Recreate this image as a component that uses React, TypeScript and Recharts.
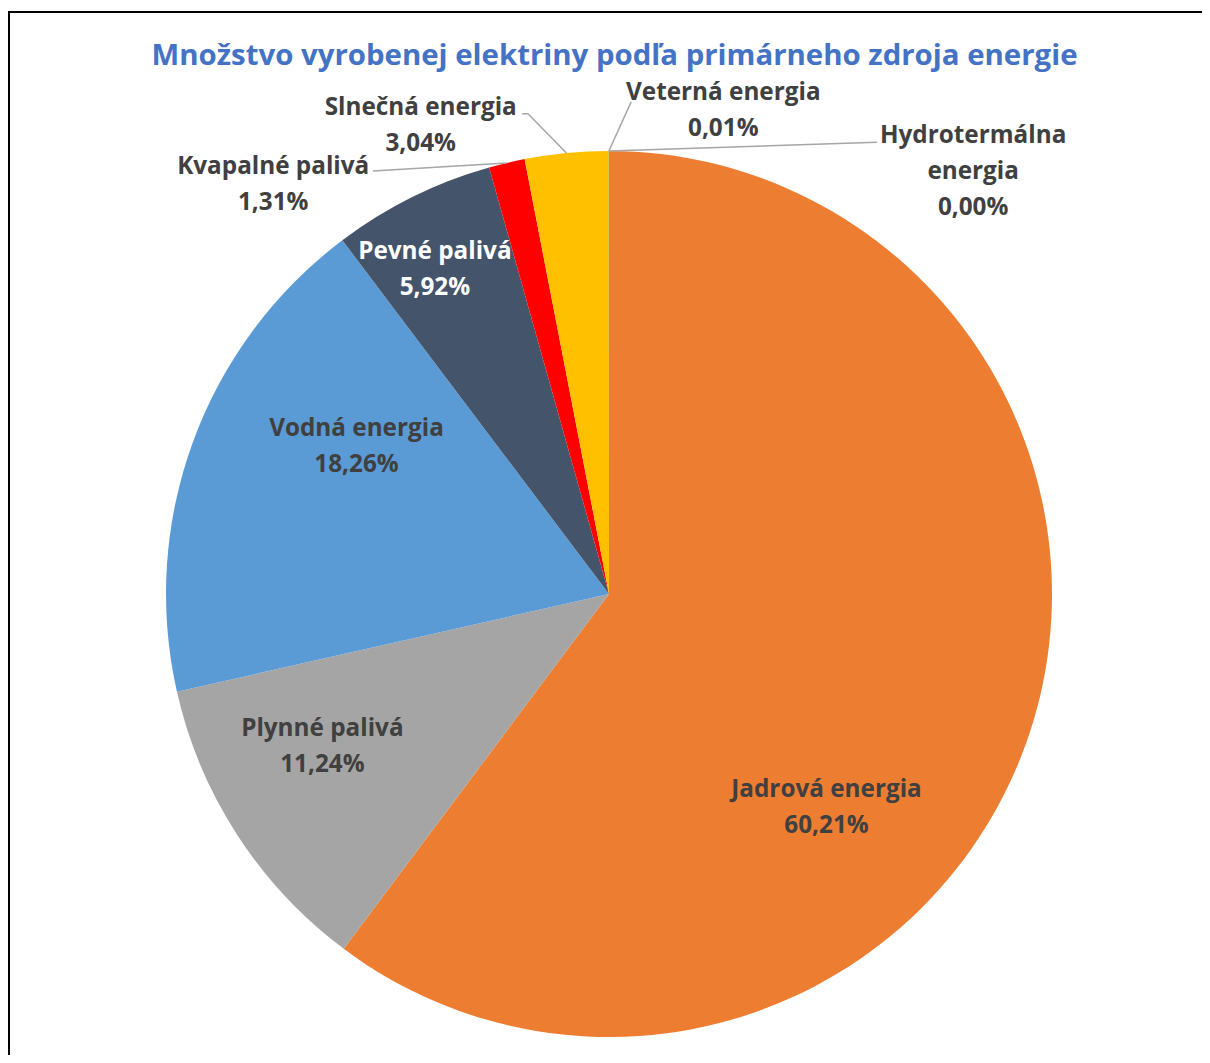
import { PieChart, Pie, Cell } from "recharts";

const categories = [
  "Jadrová energia",
  "Plynné palivá",
  "Vodná energia",
  "Pevné palivá",
  "Kvapalné palivá",
  "Slnečná energia",
  "Veterná energia",
  "Hydrotermálna energia",
];
const shares = [60.21, 11.24, 18.26, 5.92, 1.31, 3.04, 0.01, 0.0];
const sliceColors = ["#ED7D31", "#A5A5A5", "#5B9BD5", "#44546A", "#FF0000", "#FFC000", "#70AD47", "#264478"];

const title = "Množstvo vyrobenej elektriny podľa primárneho zdroja energie";

// label placement relative to pie centre, in multiples of the radius
const labelSpots = [
  { x: 0.491, y: 0.458 },
  { x: -0.647, y: 0.321 },
  { x: -0.57, y: -0.357 },
  { x: -0.393, y: -0.756, light: true },
  { x: -0.758, y: -0.948, lead: [[-0.533, -0.955]] },
  { x: -0.425, y: -1.081, lead: [[-0.183, -1.084], [-0.196, -1.084]] },
  { x: 0.258, y: -1.114, lead: [[0.05, -1.111]] },
  { x: 0.822, y: -1.019, wrap: true, lead: [[0.605, -1.02]] },
];

const data = categories.map((name, i) => ({ name, value: shares[i] }));

const FONT = "'Open Sans', Lato, sans-serif";
const RAD = Math.PI / 180;

const fmt = (v: number) => v.toFixed(2).replace(".", ",") + "%";

function SliceLabel(props: any) {
  const { cx, cy, outerRadius, midAngle, index } = props;
  const spot = labelSpots[index];
  if (!spot) return null;
  const R = outerRadius;
  const name = categories[index];
  const lines = spot.wrap ? [...name.split(" "), fmt(shares[index])] : [name, fmt(shares[index])];
  const tx = cx + spot.x * R;
  const ty = cy + spot.y * R;
  let lead = null;
  if (spot.lead) {
    const ax = cx + Math.cos(-midAngle * RAD) * R;
    const ay = cy + Math.sin(-midAngle * RAD) * R;
    const pts = [[ax, ay], ...spot.lead.map(([px, py]) => [cx + px * R, cy + py * R])];
    lead = (
      <polyline
        points={pts.map((p) => p.join(",")).join(" ")}
        fill="none"
        stroke="#A6A6A6"
        strokeWidth={1.5}
      />
    );
  }
  return (
    <g>
      {lead}
      <text
        x={tx}
        y={ty}
        textAnchor="middle"
        fill={spot.light ? "#FFFFFF" : "#404040"}
        fontFamily={FONT}
        fontWeight={700}
        fontSize={24.3}
      >
        {lines.map((l, k) => (
          <tspan key={k} x={tx} dy={k === 0 ? 0 : 36}>
            {l}
          </tspan>
        ))}
      </text>
    </g>
  );
}

export default function App() {
  return (
    <div style={{ position: "relative", width: 1202, height: 1047, background: "#fff", overflow: "hidden" }}>
      <style>{"body{overflow:hidden}"}</style>
      <div
        style={{
          position: "absolute",
          top: 3,
          left: 0,
          width: 1300,
          height: 1200,
          borderTop: "2px solid #000",
          borderLeft: "2px solid #000",
        }}
      />
      <svg width={1202} height={80} style={{ position: "absolute", top: 0, left: 0 }}>
        <text
          x={606.5}
          y={57}
          textAnchor="middle"
          fill="#4472C4"
          fontFamily={FONT}
          fontWeight={700}
          fontSize={29.4}
        >
          {title}
        </text>
      </svg>
      <div style={{ position: "absolute", top: 0, left: 0 }}>
        <PieChart width={1202} height={1047} margin={{ top: 0, right: 0, bottom: 0, left: 0 }}>
          <Pie
            data={data}
            dataKey="value"
            nameKey="name"
            cx={601}
            cy={586}
            outerRadius={443}
            startAngle={90}
            endAngle={-270}
            stroke="none"
            labelLine={false}
            label={SliceLabel}
            isAnimationActive={false}
          >
            {data.map((d, i) => (
              <Cell key={d.name} fill={sliceColors[i]} />
            ))}
          </Pie>
        </PieChart>
      </div>
    </div>
  );
}
